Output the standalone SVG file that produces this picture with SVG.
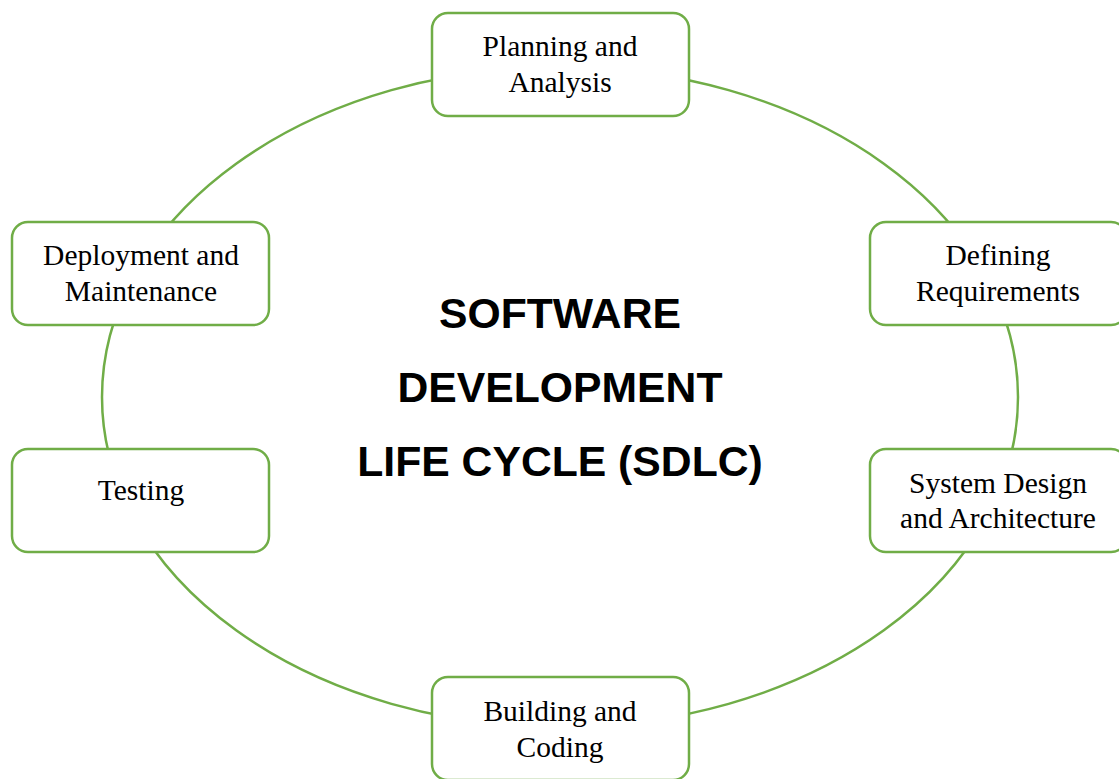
<svg xmlns="http://www.w3.org/2000/svg" width="1119" height="779" viewBox="0 0 1119 779">
<style>
.box{fill:#fff;stroke:#70AD47;stroke-width:2.5}
.lbl{font-family:"Liberation Serif","Times New Roman",serif;font-size:29.5px;fill:#000;text-anchor:middle}
.title{font-family:"Liberation Sans",Arial,sans-serif;font-size:42.7px;font-weight:bold;fill:#000;text-anchor:middle}
</style>
<rect width="1119" height="779" fill="#fff"/>
<g id="connectors">
<ellipse cx="560" cy="397" rx="458" ry="330" fill="none" stroke="#70AD47" stroke-width="2.5"/>
</g>
<g id="title">
<text class="title" x="560" y="328">SOFTWARE</text>
<text class="title" x="560" y="402">DEVELOPMENT</text>
<text class="title" x="560" y="476">LIFE CYCLE (SDLC)</text>
</g>
<g id="planning">
<rect class="box" x="432" y="13" width="257" height="103" rx="16"/>
<text class="lbl" x="560" y="56">Planning and</text>
<text class="lbl" x="560" y="92">Analysis</text>
</g>
<g id="defining">
<rect class="box" x="870" y="222" width="257" height="103" rx="16"/>
<text class="lbl" x="998" y="265">Defining</text>
<text class="lbl" x="998" y="301">Requirements</text>
</g>
<g id="design">
<rect class="box" x="870" y="449" width="257" height="103" rx="16"/>
<text class="lbl" x="998" y="493">System Design</text>
<text class="lbl" x="998" y="528">and Architecture</text>
</g>
<g id="building">
<rect class="box" x="432" y="677" width="257" height="103" rx="16"/>
<text class="lbl" x="560" y="721">Building and</text>
<text class="lbl" x="560" y="757">Coding</text>
</g>
<g id="testing">
<rect class="box" x="12" y="449" width="257" height="103" rx="16"/>
<text class="lbl" x="141" y="500">Testing</text>
</g>
<g id="deployment">
<rect class="box" x="12" y="222" width="257" height="103" rx="16"/>
<text class="lbl" x="141" y="265">Deployment and</text>
<text class="lbl" x="141" y="301">Maintenance</text>
</g>
</svg>
